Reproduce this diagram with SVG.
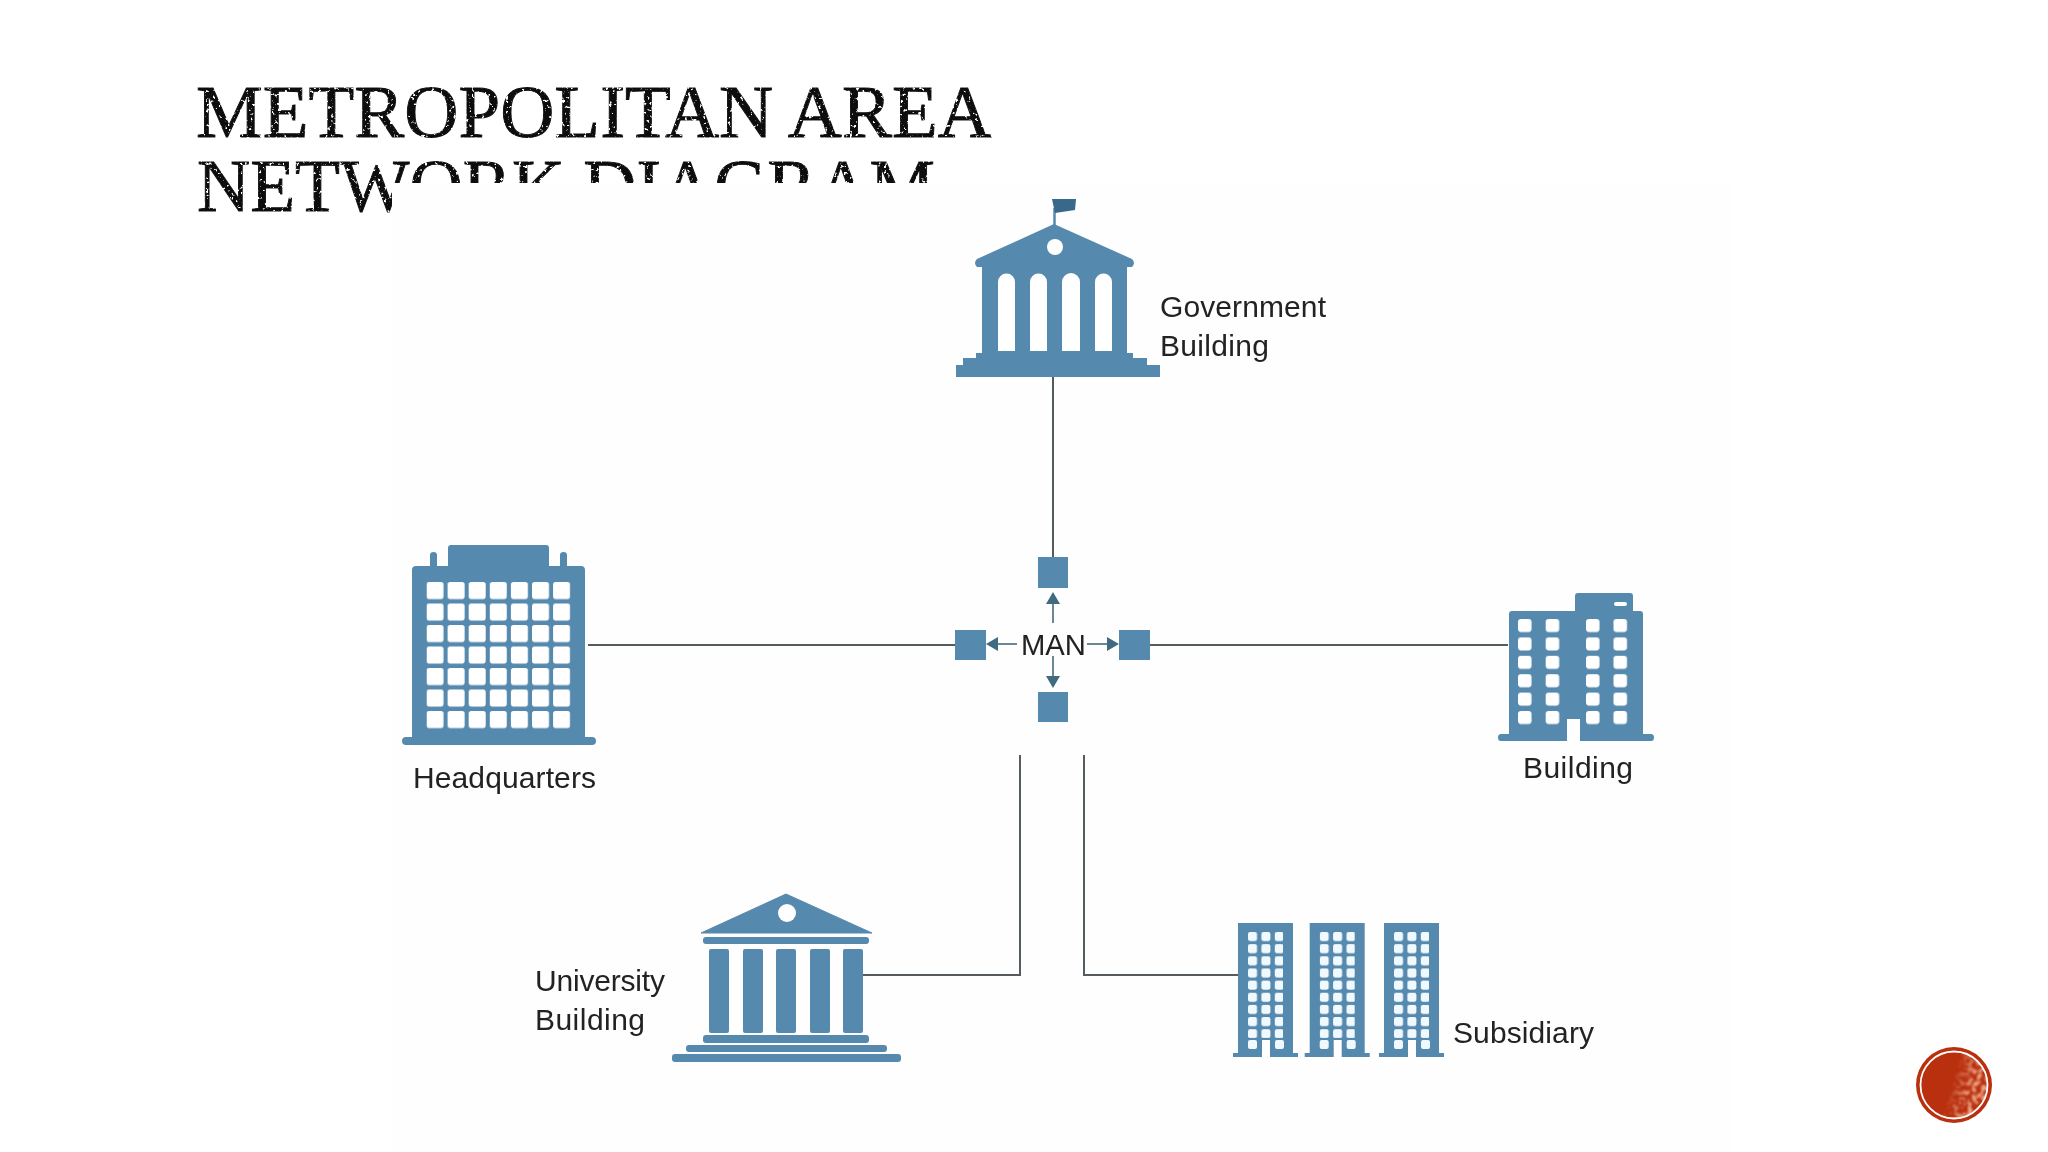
<svg xmlns="http://www.w3.org/2000/svg" width="2048" height="1152" viewBox="0 0 2048 1152">
<defs>
<style>
.b{fill:#5789ae}
.w{fill:#fff}
.l{fill:none;stroke:#555b60;stroke-width:2}
.a{fill:none;stroke:#6b8794;stroke-width:2}
.h{fill:#3f6b80}
.t{font-family:"Liberation Sans",Arial,sans-serif;font-size:30px;fill:#222}
.title{font-family:"Liberation Serif","Times New Roman",serif;font-size:73px;fill:#111;stroke:#111;stroke-width:0.9}
</style>
<filter id="soft" x="0" y="0" width="100%" height="100%"><feGaussianBlur stdDeviation="0.55"/></filter>
<filter id="grunge" x="0" y="0" width="100%" height="100%">
<feTurbulence type="fractalNoise" baseFrequency="0.32" numOctaves="2" seed="4" result="n"/>
<feColorMatrix in="n" type="matrix" values="0 0 0 0 0 0 0 0 0 0 0 0 0 0 0 0 0 0 -9 6.6" result="m"/>
<feComposite in="SourceGraphic" in2="m" operator="in"/>
<feGaussianBlur stdDeviation="0.4"/>
</filter>
<filter id="spk" x="0" y="0" width="100%" height="100%">
<feTurbulence type="fractalNoise" baseFrequency="0.22" numOctaves="2" seed="7"/>
<feColorMatrix type="matrix" values="0 0 0 0 0.85 0 0 0 0 0.38 0 0 0 0 0.24 0 0 0 -10 5.2"/>
<feGaussianBlur stdDeviation="0.8"/>
</filter>
<linearGradient id="fade" x1="0" x2="1" y1="0" y2="0.3"><stop offset="0.55" stop-color="#fff" stop-opacity="0"/><stop offset="0.85" stop-color="#fff"/></linearGradient>
<mask id="fm"><circle cx="1954" cy="1085" r="33" fill="url(#fade)"/></mask>
<pattern id="hqw" patternUnits="userSpaceOnUse" x="426.5" y="582" width="21.1" height="21.5"><rect width="17" height="17" rx="2.500" class="w"/></pattern>
<pattern id="bw" patternUnits="userSpaceOnUse" x="1518" y="619" width="27.7" height="18.4"><rect width="13.5" height="13" rx="3" class="w"/></pattern>
<pattern id="bw2" patternUnits="userSpaceOnUse" x="1586" y="619" width="27.5" height="18.4"><rect width="13.5" height="13" rx="3" class="w"/></pattern>
<pattern id="sw" patternUnits="userSpaceOnUse" x="1248" y="932" width="13.4" height="12.15"><rect width="9" height="9" rx="2" fill="#f0f9fd"/></pattern>
<g id="tower">
<path class="b" d="M1238 923H1293V1053H1298V1057H1270V1040H1262V1057H1233V1053H1238Z"/>
<rect x="1248" y="932" width="35" height="106" fill="url(#sw)"/>
<rect x="1248" y="1040" width="9" height="9" rx="2" fill="#f0f9fd"/>
<rect x="1275" y="1040" width="9" height="9" rx="2" fill="#f0f9fd"/>
</g>
</defs>
<rect width="2048" height="1152" fill="#fff"/>
<g id="title" filter="url(#grunge)">
<text class="title" x="196" y="137" textLength="796" lengthAdjust="spacingAndGlyphs">METROPOLITAN AREA</text>
<text class="title" x="197" y="211" textLength="738" lengthAdjust="spacingAndGlyphs">NETWORK DIAGRAM</text>
</g>
<rect id="picture" x="392" y="183" width="1340" height="969" fill="#fefefe"/>
<g filter="url(#soft)">
<g id="connectors">
<path class="l" d="M1053 377V557"/>
<path class="l" d="M588 645H955"/>
<path class="l" d="M1150 645H1508"/>
<path class="l" d="M863 975H1020V755"/>
<path class="l" d="M1084 755V975H1238"/>
<path class="a" d="M1053 623V600M1017 644H995M1087 644H1110M1053 656V680"/>
<path class="h" d="M1053 592l7 12h-14ZM986 644l12-7v14ZM1119 644l-12-7v14ZM1053 688l-7-12h14Z"/>
</g>
<g id="man">
<rect class="b" x="1038" y="557" width="30" height="31"/>
<rect class="b" x="955" y="630" width="31" height="30"/>
<rect class="b" x="1119" y="630" width="31" height="30"/>
<rect class="b" x="1038" y="692" width="30" height="30"/>
<text class="t" x="1021" y="655" textLength="65" lengthAdjust="spacingAndGlyphs">MAN</text>
</g>
<g id="government">
<path d="M1054.500 225V208" stroke="#5789ae" stroke-width="2.500" fill="none"/>
<path d="M1052 199H1076L1075 210L1055 213Z" fill="#37688a"/>
<path class="b" d="M1054 224L1132 259Q1136 263 1132 267H1127V353H1133V358H1147V365H1160V377H956V365H963V358H976V353H982V267H977Q973 263 977 259Z"/>
<circle class="w" cx="1055" cy="247" r="8"/>
<path class="w" d="M998 351V282a8.500 8.500 0 0 1 17 0V351ZM1030 351V282a8.500 8.500 0 0 1 17 0V351ZM1062 351V282a9 9 0 0 1 18 0V351ZM1095 351V282a8.500 8.500 0 0 1 17 0V351Z"/>
<text class="t" x="1160" y="317" textLength="166" lengthAdjust="spacing">Government</text>
<text class="t" x="1160" y="356" textLength="109" lengthAdjust="spacing">Building</text>
</g>
<g id="headquarters">
<path class="b" d="M448 566V548Q448 545 451 545H546Q549 545 549 548V566H560V555Q560 552 563.500 552Q567 552 567 555V566H581Q585 566 585 570V737H592Q596 737 596 741Q596 745 592 745H406Q402 745 402 741Q402 737 406 737H412V570Q412 566 416 566H430V555Q430 552 433.500 552Q437 552 437 555V566Z"/>
<rect x="426.500" y="582" width="144" height="147" fill="url(#hqw)"/>
<text class="t" x="413" y="788" textLength="183" lengthAdjust="spacing">Headquarters</text>
</g>
<g id="building">
<path class="b" d="M1575 611V596Q1575 593 1578 593H1630Q1633 593 1633 596V611H1640Q1643 611 1643 614V734H1651Q1654 734 1654 737.500Q1654 741 1651 741H1580V719H1567V741H1501Q1498 741 1498 737.500Q1498 734 1501 734H1509V614Q1509 611 1512 611Z"/>
<rect class="w" x="1614" y="602" width="13" height="4" rx="2"/>
<rect x="1518" y="619" width="42" height="106" fill="url(#bw)"/>
<rect x="1586" y="619" width="42" height="106" fill="url(#bw2)"/>
<text class="t" x="1523" y="778" textLength="110" lengthAdjust="spacing">Building</text>
</g>
<g id="university">
<path class="b" d="M786 894L872 933H701Z" stroke="#5789ae" stroke-width="1" stroke-linejoin="round"/>
<circle class="w" cx="787" cy="913" r="9"/>
<rect class="b" x="703" y="937" width="166" height="7" rx="3"/>
<rect class="b" x="709" y="949" width="20" height="84" rx="2"/>
<rect class="b" x="743" y="949" width="20" height="84" rx="2"/>
<rect class="b" x="776" y="949" width="20" height="84" rx="2"/>
<rect class="b" x="810" y="949" width="20" height="84" rx="2"/>
<rect class="b" x="843" y="949" width="20" height="84" rx="2"/>
<rect class="b" x="703" y="1035" width="166" height="8" rx="3"/>
<rect class="b" x="686" y="1045" width="201" height="7" rx="3"/>
<rect class="b" x="672" y="1054" width="229" height="8" rx="3"/>
<text class="t" x="535" y="991" textLength="130" lengthAdjust="spacing">University</text>
<text class="t" x="535" y="1030" textLength="110" lengthAdjust="spacing">Building</text>
</g>
<g id="subsidiary">
<use href="#tower"/>
<use href="#tower" x="71.700"/>
<use href="#tower" x="146"/>
<text class="t" x="1453" y="1043" textLength="141" lengthAdjust="spacing">Subsidiary</text>
</g>
</g>
<g id="badge">
<circle cx="1954" cy="1085" r="38" fill="#b9300f"/>
<g mask="url(#fm)"><rect x="1916" y="1047" width="76" height="76" filter="url(#spk)"/></g>
<circle cx="1954" cy="1085" r="33.500" fill="none" stroke="#fff" stroke-width="1.800"/>
</g>
</svg>
